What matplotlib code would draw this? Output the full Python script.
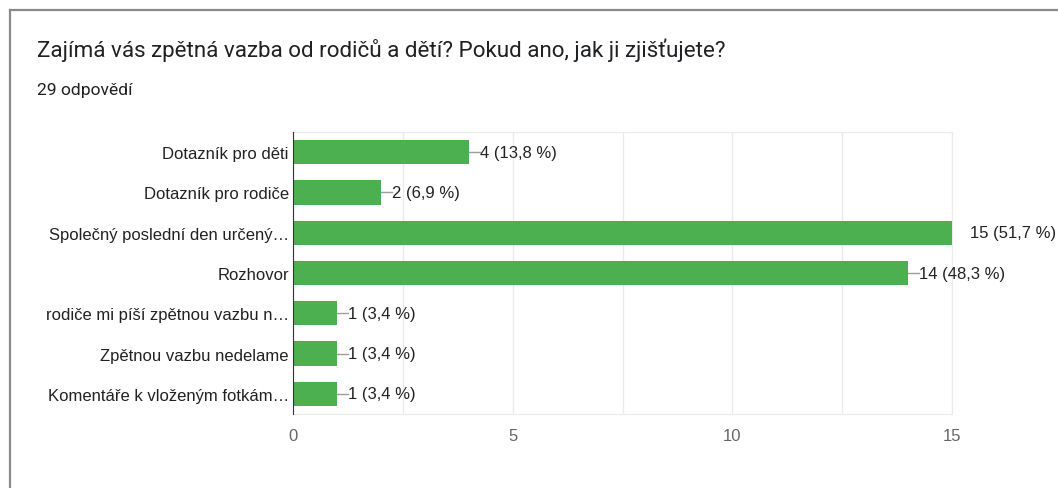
import numpy as np
import matplotlib
matplotlib.use("Agg")
import matplotlib.pyplot as plt
from matplotlib.ticker import MultipleLocator

plt.rcParams.update({
    "font.family": ["Liberation Sans", "DejaVu Sans"],
})

title = "Zajímá vás zpětná vazba od rodičů a dětí? Pokud ano, jak ji zjišťujete?"
subtitle = "29 odpovědí"
categories = [
    "Dotazník pro děti",
    "Dotazník pro rodiče",
    "Společný poslední den určený…",
    "Rozhovor",
    "rodiče mi píší zpětnou vazbu n…",
    "Zpětnou vazbu nedelame",
    "Komentáře k vloženým fotkám…",
]
counts = [4, 2, 15, 14, 1, 1, 1]
percents = ["13,8", "6,9", "51,7", "48,3", "3,4", "3,4", "3,4"]
xticks = [0, 5, 10, 15]

W, H = 1058, 489
fig = plt.figure(figsize=(W / 100, H / 100), dpi=100)
fig.patch.set_facecolor("white")

# card border (top and left visible)
fig.add_artist(plt.Line2D([9.5 / W, 1], [1 - 10.5 / H, 1 - 10.5 / H], color="#8a8a8a", lw=1.6))
fig.add_artist(plt.Line2D([9.5 / W, 9.5 / W], [0, 1 - 10.5 / H], color="#8a8a8a", lw=1.6))

fig.text(37 / W, 1 - 57 / H, title, fontsize=16.1, color="#202124",
         family=["Roboto", "DejaVu Sans"], va="baseline")
fig.text(37 / W, 1 - 95 / H, subtitle, fontsize=12.6, color="#202124",
         family=["Roboto", "DejaVu Sans"], va="baseline")

ax = fig.add_axes([293 / W, 1 - 415 / H, (952 - 293) / W, (415 - 133) / H])
y = np.arange(len(categories))
ax.barh(y, counts, height=0.6, color="#4caf50", zorder=3)
ax.set_xlim(0, 15)
ax.set_ylim(len(categories) - 0.5, -0.5)

ax.xaxis.set_major_locator(MultipleLocator(5))
ax.xaxis.set_minor_locator(MultipleLocator(2.5))
ax.grid(axis="x", which="both", color="#ebebeb", lw=1, zorder=0)
ax.set_xticks(xticks)
ax.tick_params(axis="x", which="both", length=0, pad=10, labelsize=12, labelcolor="#666666")
ax.set_yticks(y)
ax.set_yticklabels(categories)
ax.tick_params(axis="y", length=0, pad=3, labelsize=12, labelcolor="#222222")

for side in ["top", "bottom", "right"]:
    ax.spines[side].set_color("#ebebeb")
ax.spines["left"].set_color("#333333")
ax.spines["left"].set_zorder(4)

unit = 15 / (952 - 293)
for yi, c, p in zip(y, counts, percents):
    label = f"{c} ({p} %)"
    if c >= 15:
        ax.text(c + 18 * unit, yi, label, va="center", ha="left", fontsize=12,
                color="#222222", clip_on=False)
    else:
        ax.plot([c, c + 11 * unit], [yi, yi], color="#9e9e9e", lw=1, zorder=3,
                clip_on=False)
        ax.text(c + 11 * unit, yi, label, va="center", ha="left", fontsize=12,
                color="#222222", clip_on=False)

fig.savefig("out.png", dpi=100, facecolor="white")
